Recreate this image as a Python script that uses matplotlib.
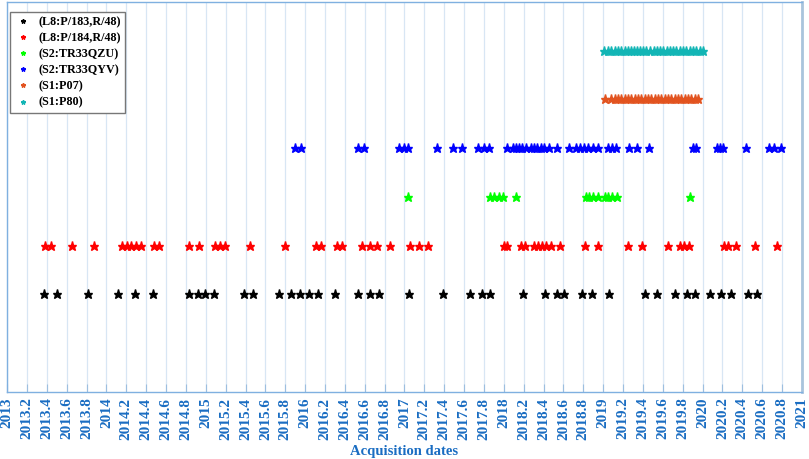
import matplotlib.pyplot as plt
import numpy as np

# --- acquisition dates (decimal years) ---
L8_P183 = [2013.37, 2013.50, 2013.81, 2014.12, 2014.29, 2014.47, 2014.83, 2014.92,
           2014.99, 2015.08, 2015.38, 2015.48, 2015.74, 2015.86, 2015.95, 2016.04,
           2016.13, 2016.30, 2016.53, 2016.65, 2016.74, 2017.05, 2017.39, 2017.66,
           2017.78, 2017.86, 2018.19, 2018.41, 2018.53, 2018.61, 2018.79, 2018.89,
           2019.06, 2019.42, 2019.54, 2019.72, 2019.84, 2019.92, 2020.07, 2020.19,
           2020.29, 2020.46, 2020.55]

L8_P184 = [2013.38, 2013.44, 2013.65, 2013.88, 2014.16, 2014.21, 2014.25, 2014.30,
           2014.35, 2014.48, 2014.53, 2014.83, 2014.93, 2015.09, 2015.14, 2015.19,
           2015.45, 2015.80, 2016.11, 2016.16, 2016.32, 2016.37, 2016.57, 2016.65,
           2016.72, 2016.85, 2017.06, 2017.15, 2017.24, 2018.00, 2018.03, 2018.17,
           2018.21, 2018.30, 2018.34, 2018.38, 2018.42, 2018.47, 2018.56, 2018.82,
           2018.95, 2019.25, 2019.39, 2019.65, 2019.77, 2019.81, 2019.86, 2020.22,
           2020.26, 2020.34, 2020.53, 2020.75]

S2_QZU = [2017.04, 2017.86, 2017.90, 2017.95, 2017.99, 2018.12, 2018.83, 2018.86,
          2018.90, 2018.95, 2019.02, 2019.05, 2019.09, 2019.14, 2019.87]

S2_QYV = [2015.90, 2015.96, 2016.53, 2016.59, 2016.94, 2016.99, 2017.04, 2017.33,
          2017.49, 2017.58, 2017.74, 2017.80, 2017.85, 2018.03, 2018.09, 2018.12,
          2018.15, 2018.18, 2018.22, 2018.27, 2018.30, 2018.33, 2018.37, 2018.40,
          2018.45, 2018.53, 2018.66, 2018.73, 2018.77, 2018.81, 2018.85, 2018.90,
          2018.95, 2019.05, 2019.09, 2019.13, 2019.26, 2019.34, 2019.46, 2019.90,
          2019.93, 2020.14, 2020.18, 2020.21, 2020.44, 2020.67, 2020.72, 2020.79]

S1_P07 = [2019.02, 2019.08, 2019.12, 2019.15, 2019.18, 2019.22, 2019.25, 2019.28,
          2019.32, 2019.35, 2019.38, 2019.42, 2019.45, 2019.48, 2019.52, 2019.55,
          2019.58, 2019.62, 2019.65, 2019.68, 2019.72, 2019.75, 2019.78, 2019.82,
          2019.85, 2019.88, 2019.92, 2019.95]

S1_P80 = [2019.01, 2019.05, 2019.08, 2019.12, 2019.15, 2019.18, 2019.22, 2019.25,
          2019.28, 2019.31, 2019.34, 2019.37, 2019.40, 2019.43, 2019.47, 2019.51,
          2019.54, 2019.57, 2019.60, 2019.64, 2019.67, 2019.70, 2019.73, 2019.77,
          2019.80, 2019.83, 2019.87, 2019.90, 2019.93, 2019.97, 2020.00]

SERIES = [
    ('(L8:P/183,R/48)', L8_P183, 'black'),
    ('(L8:P/184,R/48)', L8_P184, '#ff0000'),
    ('(S2:TR33QZU)', S2_QZU, '#00ff00'),
    ('(S2:TR33QYV)', S2_QYV, '#0000ff'),
    ('(S1:P07)', S1_P07, '#e2531f'),
    ('(S1:P80)', S1_P80, '#12b5b5'),
]

TICK_BLUE = '#1a6dc2'

plt.rcParams['font.family'] = ['Liberation Serif', 'DejaVu Serif']
plt.rcParams['font.weight'] = 'bold'

fig = plt.figure(figsize=(8.09, 4.59), dpi=100)
ax = fig.add_axes([0.0087, 0.146, 0.9826, 0.850])

for i, (label, dates, color) in enumerate(SERIES):
    ax.plot(dates, [i + 1] * len(dates), linestyle='none', marker='*',
            markersize=6.5, color=color, label=label, zorder=3)

ax.set_xlim(2013, 2021)
ax.set_ylim(-1, 7)
ticks = np.round(np.arange(2013, 2021.01, 0.2), 1)
ax.set_xticks(ticks)
ax.set_xticklabels([f'{t:g}' for t in ticks], rotation=90, fontsize=11,
                   fontweight='bold', color=TICK_BLUE)
ax.set_yticks([])
ax.tick_params(axis='x', direction='in', length=6, color='#9dbfe0', pad=4)
ax.grid(True, axis='x', color='#d8e6f4', linewidth=0.9, zorder=0)

for side in ['left', 'bottom', 'top']:
    ax.spines[side].set_color('#7fb0e0')
    ax.spines[side].set_linewidth(1.0)
ax.spines['right'].set_color('#a9c4dc')
ax.spines['right'].set_linewidth(2.0)

ax.set_xlabel('Acquisition dates', fontsize=10.5, fontweight='bold',
              color=TICK_BLUE, labelpad=4)

leg = ax.legend(loc='upper left', bbox_to_anchor=(0.004, 0.974), borderaxespad=0,
                markerscale=0.5, handlelength=1.4, handletextpad=0.6,
                labelspacing=0.34, borderpad=0.35, fancybox=False, framealpha=1,
                edgecolor='#777777', prop={'weight': 'bold', 'size': 8.7})
leg.get_frame().set_linewidth(1.0)

plt.savefig('out.png', dpi=100)
